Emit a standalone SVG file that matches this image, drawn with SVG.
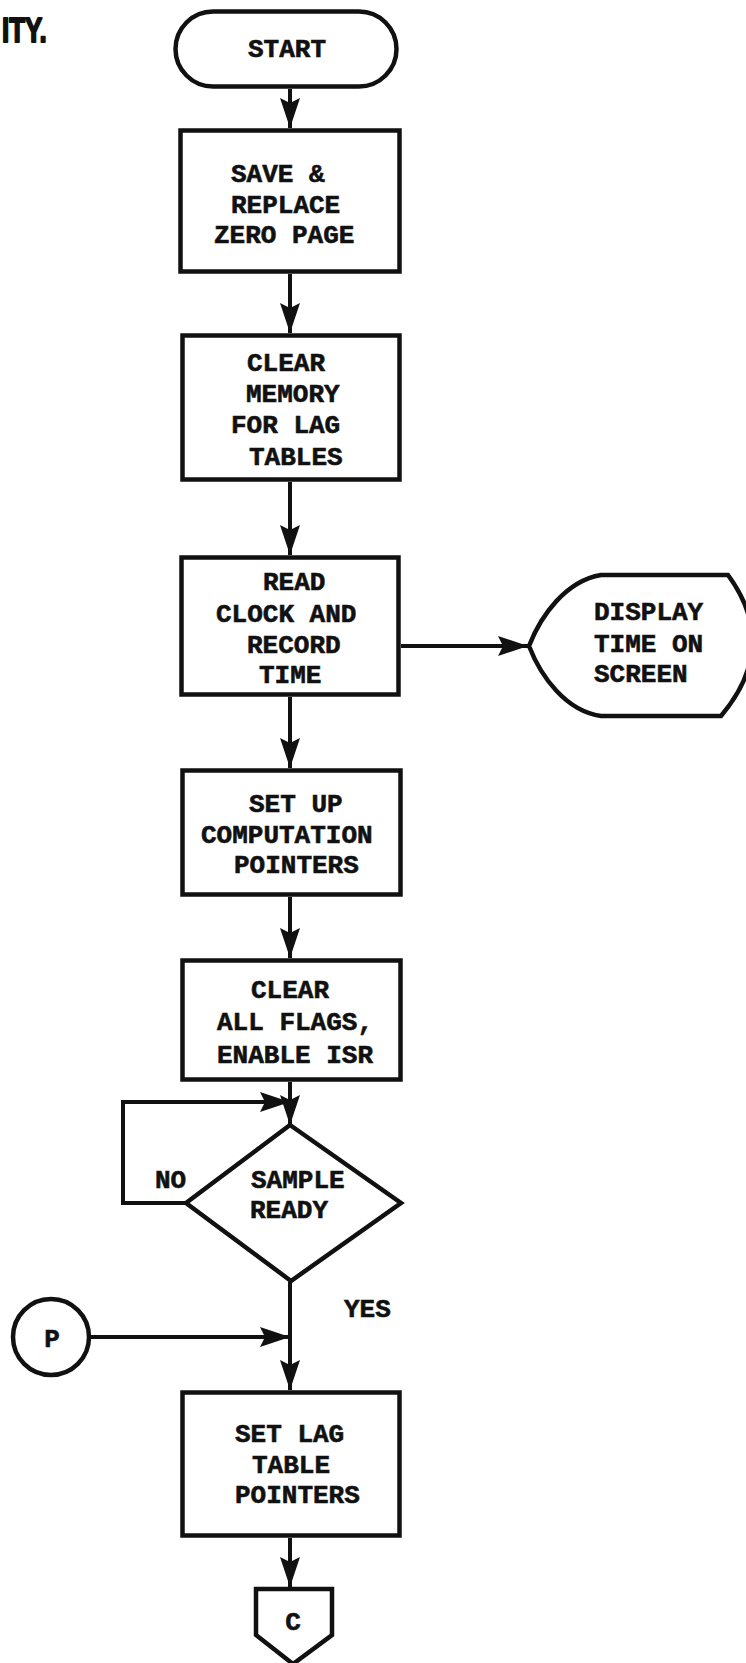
<svg xmlns="http://www.w3.org/2000/svg" width="746" height="1663" viewBox="0 0 746 1663">
  <style>
    .shape { fill: #fff; stroke: #111; stroke-width: 4.5; stroke-linejoin: miter; }
    .conn { fill: none; stroke: #111; stroke-width: 4; }
    .t { font-family: "Liberation Mono", "Courier New", monospace; font-weight: bold; font-size: 26px; fill: #111; stroke: #111; stroke-width: 0.6; }
    .tc { text-anchor: middle; }
    .hand { font-family: "Liberation Sans", Arial, sans-serif; font-weight: 900; font-size: 36px; fill: #111; stroke: #111; stroke-width: 2; stroke-linejoin: round; }
  </style>
  <defs>
    <marker id="arr" markerUnits="userSpaceOnUse" markerWidth="30" markerHeight="20" refX="30" refY="10" orient="auto">
      <path d="M0,0 L30,10 L0,20 L5,10 z" fill="#111"/>
    </marker>
  </defs>
  <rect x="0" y="0" width="746" height="1663" fill="#fff"/>

  <text class="hand" transform="translate(2,42) scale(0.72,1)">ITY.</text>

  <g id="connectors">
    <line class="conn" x1="290" y1="89" x2="290" y2="128" marker-end="url(#arr)"/>
    <line class="conn" x1="290" y1="274" x2="290" y2="333" marker-end="url(#arr)"/>
    <line class="conn" x1="290" y1="482" x2="290" y2="555" marker-end="url(#arr)"/>
    <line class="conn" x1="401" y1="646" x2="528" y2="646" marker-end="url(#arr)"/>
    <line class="conn" x1="290" y1="697" x2="290" y2="768" marker-end="url(#arr)"/>
    <line class="conn" x1="290" y1="897" x2="290" y2="958" marker-end="url(#arr)"/>
    <line class="conn" x1="290" y1="1082" x2="290" y2="1125" marker-end="url(#arr)"/>
    <polyline class="conn" points="186,1203 123,1203 123,1102 290,1102" marker-end="url(#arr)"/>
    <line class="conn" x1="290" y1="1282" x2="290" y2="1390" marker-end="url(#arr)"/>
    <line class="conn" x1="91" y1="1337" x2="290" y2="1337" marker-end="url(#arr)"/>
    <line class="conn" x1="290" y1="1538" x2="290" y2="1587" marker-end="url(#arr)"/>
    <text class="t" x="155" y="1188">NO</text>
    <text class="t" x="344" y="1317">YES</text>
  </g>

  <g id="start">
    <rect class="shape" x="175.5" y="11.5" width="221" height="75" rx="37.5"/>
    <text class="t" x="248" y="57">START</text>
  </g>

  <g id="save-replace">
    <rect class="shape" x="180.5" y="130.5" width="219" height="141"/>
    <text class="t" x="231" y="182">SAVE &amp;</text>
    <text class="t" x="231" y="213">REPLACE</text>
    <text class="t" x="214" y="243">ZERO PAGE</text>
  </g>

  <g id="clear-memory">
    <rect class="shape" x="182.5" y="335.5" width="217" height="144"/>
    <text class="t" x="247" y="371">CLEAR</text>
    <text class="t" x="246" y="402">MEMORY</text>
    <text class="t" x="231" y="433">FOR LAG</text>
    <text class="t" x="249" y="465">TABLES</text>
  </g>

  <g id="read-clock">
    <rect class="shape" x="181.5" y="557.5" width="217" height="137"/>
    <text class="t" x="263" y="590">READ</text>
    <text class="t" x="216" y="622">CLOCK AND</text>
    <text class="t" x="247" y="653">RECORD</text>
    <text class="t" x="259" y="683">TIME</text>
  </g>

  <g id="display-time">
    <path class="shape" d="M529,646 C541,615 566,581 601,575 L728,575 Q780,646 721,716 L601,716 C566,711 541,677 529,646 Z"/>
    <text class="t" x="594" y="620">DISPLAY</text>
    <text class="t" x="594" y="652">TIME ON</text>
    <text class="t" x="594" y="682">SCREEN</text>
  </g>

  <g id="setup-pointers">
    <rect class="shape" x="182.5" y="770.5" width="218" height="124"/>
    <text class="t" x="249" y="812">SET UP</text>
    <text class="t" x="201" y="843">COMPUTATION</text>
    <text class="t" x="234" y="873">POINTERS</text>
  </g>

  <g id="clear-flags">
    <rect class="shape" x="182.5" y="960.5" width="218" height="119"/>
    <text class="t" x="251" y="998">CLEAR</text>
    <text class="t" x="217" y="1030">ALL FLAGS,</text>
    <text class="t" x="217" y="1063">ENABLE ISR</text>
  </g>

  <g id="sample-ready">
    <polygon class="shape" points="290,1125 401,1203 291,1281 186,1203"/>
    <text class="t" x="251" y="1188">SAMPLE</text>
    <text class="t" x="250" y="1218">READY</text>
  </g>

  <g id="connector-p">
    <circle class="shape" cx="51" cy="1337" r="38"/>
    <text class="t tc" x="52" y="1347">P</text>
  </g>

  <g id="set-lag-pointers">
    <rect class="shape" x="182.5" y="1392.5" width="217" height="143"/>
    <text class="t" x="235" y="1442">SET LAG</text>
    <text class="t" x="252" y="1473">TABLE</text>
    <text class="t" x="235" y="1503">POINTERS</text>
  </g>

  <g id="connector-c">
    <polygon class="shape" points="256,1589 332,1589 332,1635 293,1664 256,1635"/>
    <text class="t tc" x="293" y="1630">C</text>
  </g>
</svg>
